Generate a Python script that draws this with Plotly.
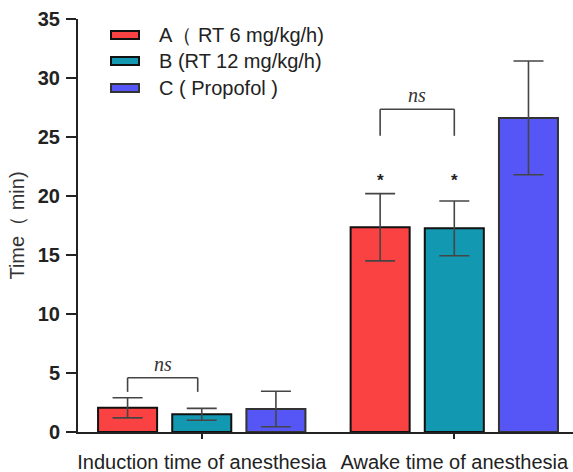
import plotly.graph_objects as go

categories = ["Induction time of anesthesia", "Awake time of anesthesia"]
group_names = ["A（ RT 6 mg/kg/h)", "B (RT 12 mg/kg/h)", "C ( Propofol )"]
means_A = [2.05, 17.35]
means_B = [1.5, 17.26]
means_C = [1.95, 26.62]
sd_A = [0.85, 2.85]
sd_B = [0.5, 2.32]
sd_C = [1.5, 4.82]
colors = ["#FA4242", "#1398B1", "#5656F6"]
outline = ["#111111", "#111111", "#333333"]

# significance marks: (category index, bar i, bar j, y top, y bottom, label)
brackets = [(0, 0, 1, 4.6, 3.4, "ns"), (1, 0, 1, 27.35, 25.1, "ns")]
stars = [(1, 0, 21.35), (1, 1, 21.35)]

bargap = 0.119
bargroupgap = 0.204
step = (1 - bargap) / 3
offsets = [-step, 0, step]

fig = go.Figure()
for name, m, s, c, o in zip(group_names, [means_A, means_B, means_C], [sd_A, sd_B, sd_C], colors, outline):
    fig.add_trace(go.Bar(
        x=categories, y=m, name=name,
        marker=dict(color=c, line=dict(color=o, width=2)),
        error_y=dict(type="data", array=s, visible=True, color="#454545", thickness=1.6, width=15),
        showlegend=False,
    ))

shapes = []
annotations = []
for ci, bi, bj, yt, yb, lab in brackets:
    x0 = ci + offsets[bi]
    x1 = ci + offsets[bj] - (0.016 if ci == 0 else 0)
    for xs, ys in [((x0, x0), (yb, yt)), ((x0, x1), (yt, yt)), ((x1, x1), (yt, yb))]:
        shapes.append(dict(type="line", xref="x", yref="y", x0=xs[0], x1=xs[1], y0=ys[0], y1=ys[1],
                           line=dict(color="#444444", width=1.6)))
    annotations.append(dict(x=(x0 + x1) / 2, y=yt, xref="x", yref="y", text="<i>" + lab + "</i>",
                            showarrow=False, yanchor="bottom", yshift=1,
                            font=dict(family="Liberation Serif", size=20, color="#333333")))
for ci, bi, ys in stars:
    annotations.append(dict(x=ci + offsets[bi], y=ys, xref="x", yref="y", text="<b>*</b>",
                            showarrow=False, yanchor="middle",
                            font=dict(family="Liberation Sans", size=17, color="#222222")))

# legend drawn manually
leg_y = [35, 61, 88]
H = 413.0
W = 495.0
for name, c, o, py in zip(group_names, colors, outline, leg_y):
    yp = (432 - py) / H
    shapes.append(dict(type="rect", xref="paper", yref="paper", x0=(111 - 78) / W, x1=(139 - 78) / W,
                       y0=yp - 4 / H, y1=yp + 4 / H, fillcolor=c, line=dict(color=o, width=2)))
    annotations.append(dict(x=(157 - 78) / W, y=yp, xref="paper", yref="paper", text=name,
                            showarrow=False, xanchor="left", yanchor="middle",
                            font=dict(family="Liberation Sans", size=20, color="#222222")))

fig.update_layout(
    width=573, height=472, autosize=False,
    margin=dict(l=78, r=0, t=19, b=40),
    plot_bgcolor="white", paper_bgcolor="white",
    barmode="group", bargap=bargap, bargroupgap=bargroupgap,
    shapes=shapes, annotations=annotations,
    font=dict(family="Liberation Sans", color="#222222"),
)
fig.update_xaxes(
    range=[-0.49, 1.47], showline=True, linecolor="#222222", linewidth=2,
    ticks="outside", ticklen=5, tickwidth=2, tickcolor="#222222",
    tickfont=dict(family="Liberation Sans", size=20, color="#222222"),
    showgrid=False, zeroline=False, ticklabelstandoff=6,
)
fig.update_yaxes(
    range=[0, 35], dtick=5, showline=True, linecolor="#222222", linewidth=2,
    ticks="outside", ticklen=10, tickwidth=2, tickcolor="#222222",
    tickprefix="<b>", ticksuffix="</b>",
    tickfont=dict(family="Liberation Sans", size=20, color="#222222"),
    showgrid=False, zeroline=False, ticklabelstandoff=2,
    title=dict(text="Time（ min)", font=dict(family="Liberation Sans", size=20, color="#333333"), standoff=8),
)
fig.write_html("out.html")
